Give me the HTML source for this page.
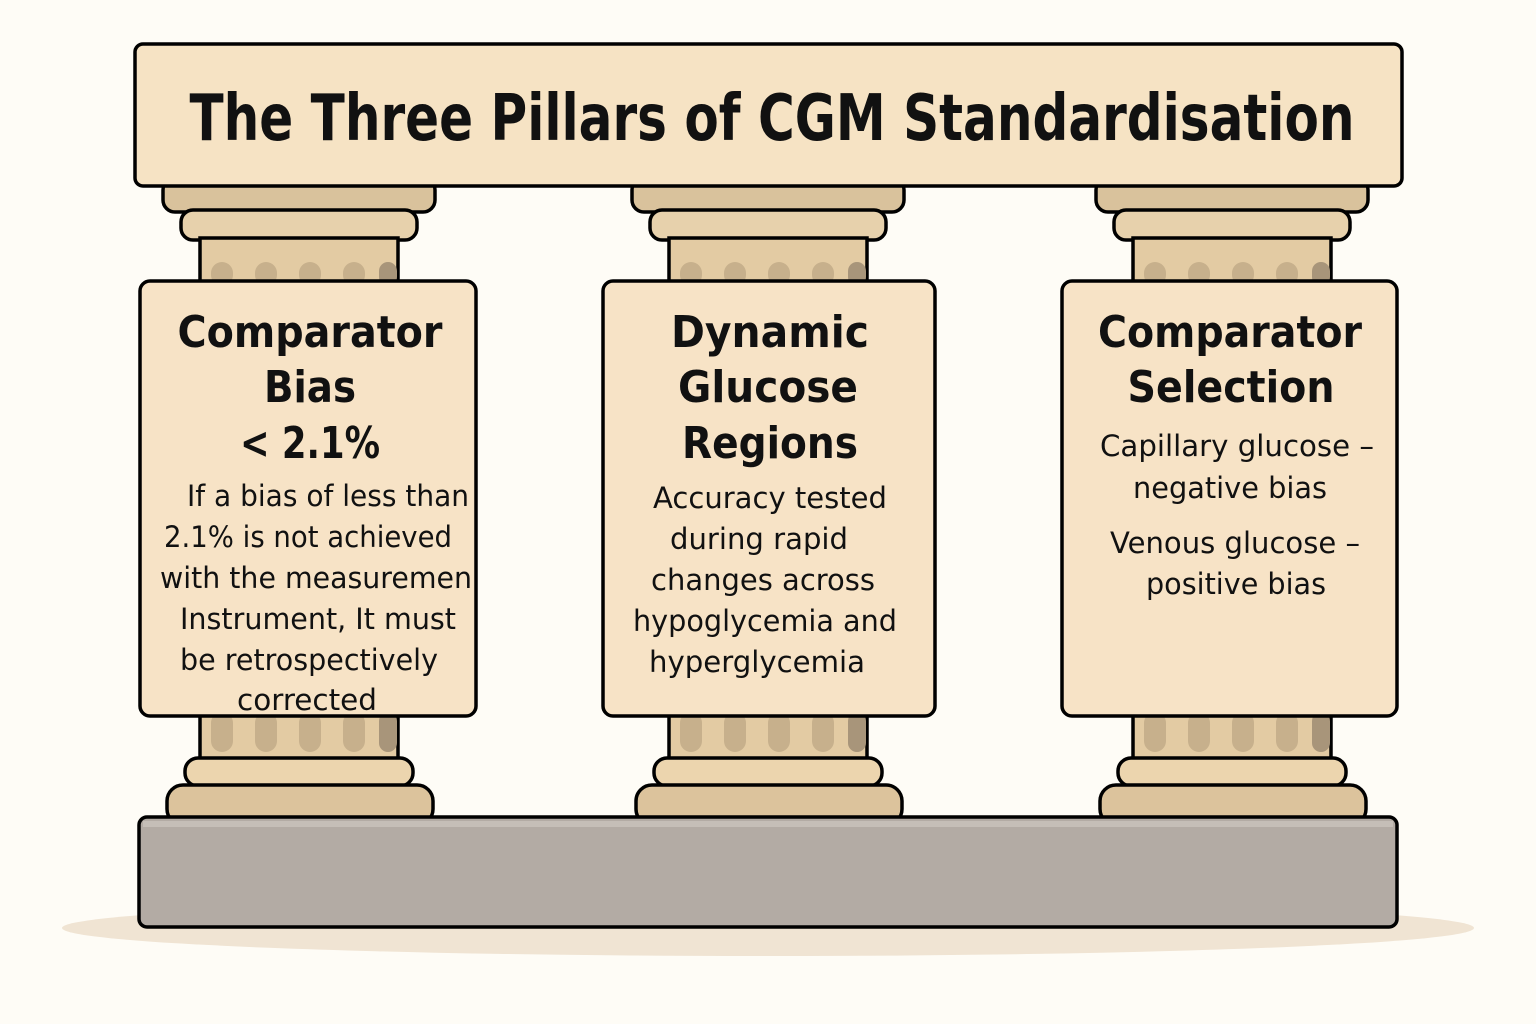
<!DOCTYPE html>
<html><head><meta charset="utf-8"><style>
html,body{margin:0;padding:0;background:#fefcf6;}
svg{display:block;}
text{font-family:"DejaVu Sans","Liberation Sans",sans-serif;fill:#111;}
</style></head><body>
<svg width="1536" height="1024" viewBox="0 0 1536 1024" xmlns="http://www.w3.org/2000/svg">
<defs>
<g id="pil">
  <rect x="-144" y="178" width="272" height="34" rx="12" fill="#d9c29c" stroke="#000" stroke-width="3.5"/>
  <rect x="-126" y="210" width="236" height="30" rx="12" fill="#e7d1ac" stroke="#000" stroke-width="3.5"/>
  <rect x="-107" y="238" width="198" height="48" fill="#e3cba3" stroke="#000" stroke-width="3.5"/>
  <g fill="#c7b08c">
    <rect x="-96" y="262" width="22" height="24" rx="11"/>
    <rect x="-52" y="262" width="22" height="24" rx="11"/>
    <rect x="-8" y="262" width="22" height="24" rx="11"/>
    <rect x="36" y="262" width="22" height="24" rx="11"/>
    <rect x="72" y="262" width="18" height="24" rx="9" fill="#a8957a"/>
  </g>
  <rect x="-107" y="712" width="198" height="48" fill="#e3cba3" stroke="#000" stroke-width="3.5"/>
  <g fill="#c7b08c">
    <rect x="-96" y="712" width="22" height="40" rx="11"/>
    <rect x="-52" y="712" width="22" height="40" rx="11"/>
    <rect x="-8" y="712" width="22" height="40" rx="11"/>
    <rect x="36" y="712" width="22" height="40" rx="11"/>
    <rect x="72" y="712" width="18" height="40" rx="9" fill="#a8957a"/>
  </g>
  <rect x="-122" y="758" width="228" height="28" rx="13" fill="#ecd5ae" stroke="#000" stroke-width="3.5"/>
  <rect x="-140" y="785" width="266" height="40" rx="16" fill="#dcc39c" stroke="#000" stroke-width="3.5"/>
</g>
</defs>
<ellipse cx="768" cy="928" rx="706" ry="28" fill="#f0e4d3"/>
<use href="#pil" x="307"/>
<use href="#pil" x="776"/>
<use href="#pil" x="1240"/>
<rect x="139" y="817" width="1258" height="110" rx="8" fill="#b3aba4" stroke="#000" stroke-width="3.5"/>
<rect x="143" y="821" width="1250" height="6" fill="#c5beb7"/>
<rect x="135" y="44" width="1267" height="142" rx="8" fill="#f6e3c4" stroke="#000" stroke-width="3.5"/>
<text x="772" y="140" text-anchor="middle" font-size="64" font-weight="bold" textLength="1165" lengthAdjust="spacingAndGlyphs">The Three Pillars of CGM Standardisation</text>
<rect x="140" y="281" width="336" height="435" rx="10" fill="#f7e3c6" stroke="#000" stroke-width="3.5"/>
<rect x="603" y="281" width="332" height="435" rx="10" fill="#f7e3c6" stroke="#000" stroke-width="3.5"/>
<rect x="1062" y="281" width="335" height="435" rx="10" fill="#f7e3c6" stroke="#000" stroke-width="3.5"/>
<g font-size="44" font-weight="bold" text-anchor="middle" lengthAdjust="spacingAndGlyphs">
  <text x="310" y="347" textLength="265" lengthAdjust="spacingAndGlyphs">Comparator</text>
  <text x="310" y="402" textLength="92" lengthAdjust="spacingAndGlyphs">Bias</text>
  <text x="310" y="458" textLength="140" lengthAdjust="spacingAndGlyphs">&lt; 2.1%</text>
  <text x="770" y="347" textLength="198" lengthAdjust="spacingAndGlyphs">Dynamic</text>
  <text x="768" y="402" textLength="180" lengthAdjust="spacingAndGlyphs">Glucose</text>
  <text x="770" y="458" textLength="176" lengthAdjust="spacingAndGlyphs">Regions</text>
  <text x="1230" y="347" textLength="264" lengthAdjust="spacingAndGlyphs">Comparator</text>
  <text x="1231" y="402" textLength="207" lengthAdjust="spacingAndGlyphs">Selection</text>
</g>
<g font-size="29" text-anchor="middle">
  <text x="328" y="506" textLength="282" lengthAdjust="spacingAndGlyphs">If a bias of less than</text>
  <text x="308" y="547" textLength="288" lengthAdjust="spacingAndGlyphs">2.1% is not achieved</text>
  <text x="316" y="588" textLength="312" lengthAdjust="spacingAndGlyphs">with the measuremen</text>
  <text x="318" y="629" textLength="276" lengthAdjust="spacingAndGlyphs">Instrument, It must</text>
  <text x="309" y="670" textLength="258" lengthAdjust="spacingAndGlyphs">be retrospectively</text>
  <text x="307" y="710" textLength="140" lengthAdjust="spacingAndGlyphs">corrected</text>
  <text x="770" y="508" textLength="234" lengthAdjust="spacingAndGlyphs">Accuracy tested</text>
  <text x="759" y="549" textLength="178" lengthAdjust="spacingAndGlyphs">during rapid</text>
  <text x="763" y="590" textLength="224" lengthAdjust="spacingAndGlyphs">changes across</text>
  <text x="765" y="631" textLength="264" lengthAdjust="spacingAndGlyphs">hypoglycemia and</text>
  <text x="757" y="672" textLength="216" lengthAdjust="spacingAndGlyphs">hyperglycemia</text>
  <text x="1237" y="456" textLength="274" lengthAdjust="spacingAndGlyphs">Capillary glucose –</text>
  <text x="1230" y="498" textLength="194" lengthAdjust="spacingAndGlyphs">negative bias</text>
  <text x="1235" y="553" textLength="250" lengthAdjust="spacingAndGlyphs">Venous glucose –</text>
  <text x="1236" y="594" textLength="180" lengthAdjust="spacingAndGlyphs">positive bias</text>
</g>
</svg>
</body></html>
